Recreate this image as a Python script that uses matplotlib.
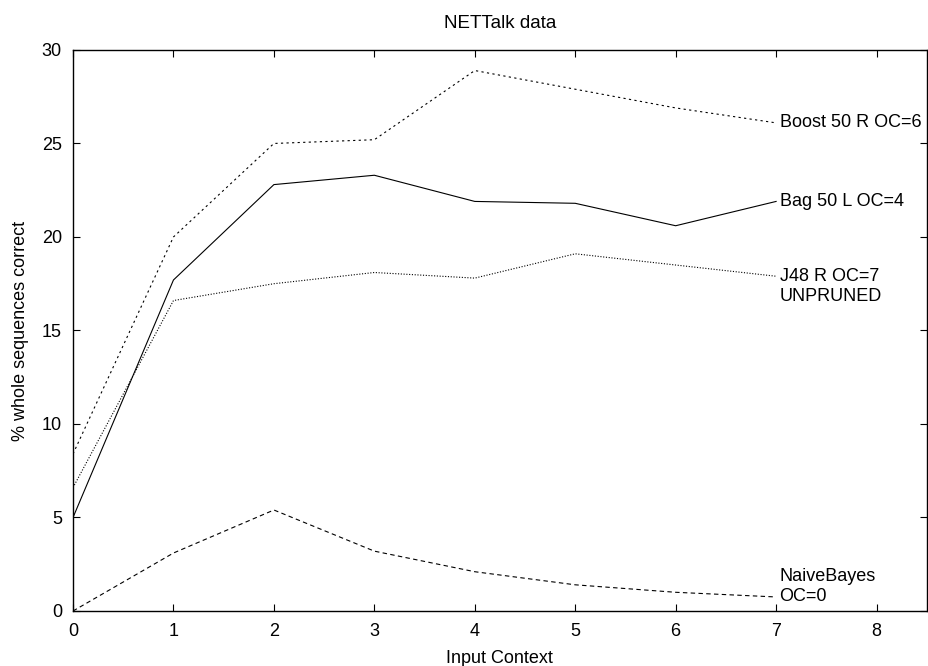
import matplotlib
matplotlib.use('Agg')
import matplotlib.pyplot as plt

plt.rcParams['font.family'] = ['Liberation Sans', 'DejaVu Sans']

#input context sizes and % whole sequences correct for each learner
context = [0, 1, 2, 3, 4, 5, 6, 7]
boost = [8.4, 20.0, 25.0, 25.2, 28.9, 27.9, 26.9, 26.1]
bag = [5.0, 17.7, 22.8, 23.3, 21.9, 21.8, 20.6, 21.9]
j48 = [6.6, 16.6, 17.5, 18.1, 17.8, 19.1, 18.5, 17.9]
naive = [0.0, 3.1, 5.4, 3.2, 2.1, 1.4, 1.0, 0.75]

fig = plt.figure(figsize=(9.29, 6.66), dpi=100)
ax = fig.add_axes([0.0786, 0.0826, 0.919, 0.8424])

ax.plot(context, boost, color='black', lw=0.8, linestyle=(0, (2, 3)))
ax.plot(context, bag, color='black', lw=0.8, linestyle='-')
ax.plot(context, j48, color='black', lw=0.8, linestyle=(0, (1, 1.5)))
ax.plot(context, naive, color='black', lw=0.8, linestyle=(0, (4, 3)))

def label(y, lines, first=0):
    # one annotate per line so a chosen line lands on the end point
    for i, txt in enumerate(lines):
        ax.annotate(txt, (7, y), xytext=(2.5, -(i - first) * 14.5),
                    textcoords='offset points', fontsize=13,
                    ha='left', va='center')

label(boost[-1], ['Boost 50 R OC=6'])
label(bag[-1], ['Bag 50 L OC=4'])
label(j48[-1], ['J48 R OC=7', 'UNPRUNED'])
label(naive[-1], ['NaiveBayes', 'OC=0'], first=1)

ax.set_xlim(0, 8.5)
ax.set_ylim(0, 30)
ax.set_xticks(range(0, 9))
ax.set_yticks(range(0, 31, 5))
ax.tick_params(direction='in', top=True, right=True, length=5, labelsize=13)
ax.tick_params(axis='x', pad=9)
ax.tick_params(axis='y', pad=8)
for s in ax.spines.values():
    s.set_linewidth(1.0)

ax.set_title('NETTalk data', fontsize=13.5, pad=16)
ax.set_xlabel('Input Context', fontsize=13, labelpad=7)
ax.set_ylabel('% whole sequences correct', fontsize=13, labelpad=9)

fig.savefig('out.png', dpi=100)
